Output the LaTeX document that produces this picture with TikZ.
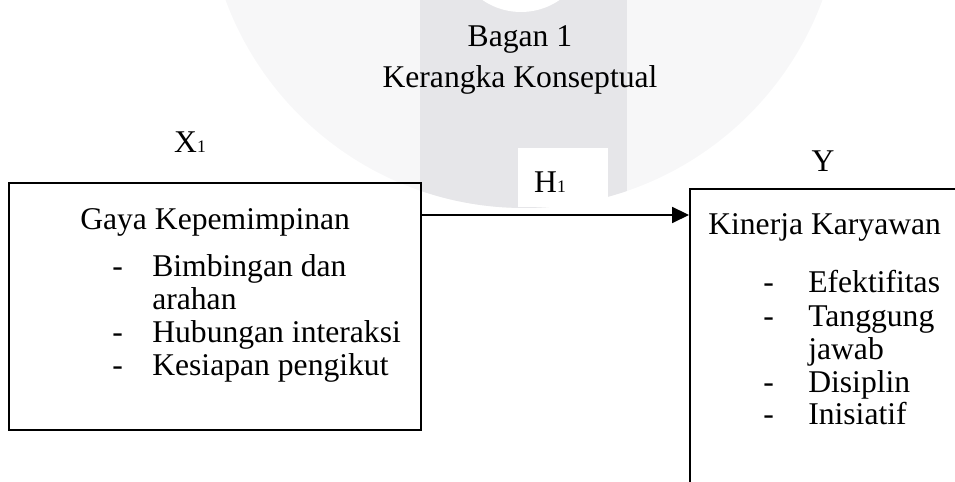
\documentclass[tikz,border=0pt]{standalone}
\usepackage{fontspec}
\setmainfont{Liberation Serif}
\usepackage{tikz}
\usetikzlibrary{arrows.meta, positioning, calc}
\definecolor{mydark}{RGB}{0,0,0}
\definecolor{wmlight}{RGB}{247,247,248}
\definecolor{wmband}{RGB}{230,230,233}
\newcommand{\idx}[1]{{\fontsize{12.5}{13}\selectfont #1}}
\tikzset{
  varbox/.style={rectangle, draw=mydark, line width=1.4pt, inner sep=0pt},
  txt/.style={anchor=base west, inner sep=0pt, font=\fontsize{22.5}{26}\selectfont},
  ctxt/.style={anchor=base, inner sep=0pt, font=\fontsize{22.5}{26}\selectfont},
  arrow/.style={-{Triangle[length=0.42cm, width=0.4cm]}, line width=0.9pt, color=mydark}
}
\begin{document}
\begin{tikzpicture}
  \useasboundingbox (0,0) rectangle (23.875,12.05);
  \clip (0,0) rectangle (23.875,12.05);
  % Watermark
  \fill[wmlight] (13.1,14.8) circle (7.95);
  \begin{scope}
    \clip (13.1,14.8) circle (7.95);
    \fill[wmband] (10.5,0) rectangle (15.675,12.05);
  \end{scope}
  \fill[white] (13.025,13.445) circle (1.695);
  \fill[white] (12.95,6.875) rectangle (15.2,8.35);
  % Title
  \node[ctxt] (bagan) at (13.0,10.875) {Bagan 1};
  \node[ctxt] (judul) at (13.0,9.85) {Kerangka Konseptual};
  % Variable labels
  \node[ctxt] (xlbl) at (4.75,8.225) {X\idx{1}};
  \node[ctxt] (hlbl) at (13.75,7.225) {H\idx{1}};
  \node[ctxt] (ylbl) at (20.575,7.75) {Y};
  % Boxes
  \node[varbox, minimum width=10.3cm, minimum height=6.175cm] (lbox) at (5.375,4.3875) {};
  \node[varbox, anchor=north west, minimum width=8cm, minimum height=10cm] (rbox) at (17.225,7.35) {};
  % Left box text
  \node[txt] (gaya) at (2.0,6.3) {Gaya Kepemimpinan};
  \node[txt] (d1) at (2.8,5.125) {-};
  \node[txt] (bimb) at (3.8,5.125) {Bimbingan dan};
  \node[txt] (arah) at (3.8,4.3) {arahan};
  \node[txt] (d2) at (2.8,3.475) {-};
  \node[txt] (hubu) at (3.8,3.475) {Hubungan interaksi};
  \node[txt] (d3) at (2.8,2.65) {-};
  \node[txt] (kesi) at (3.8,2.65) {Kesiapan pengikut};
  % Right box text
  \node[txt] (kine) at (17.7,6.175) {Kinerja Karyawan};
  \node[txt] (e1) at (19.075,4.725) {-};
  \node[txt] (efek) at (20.2,4.725) {Efektifitas};
  \node[txt] (e2) at (19.075,3.875) {-};
  \node[txt] (tang) at (20.2,3.875) {Tanggung};
  \node[txt] (jawa) at (20.2,3.05) {jawab};
  \node[txt] (e3) at (19.075,2.225) {-};
  \node[txt] (disi) at (20.2,2.225) {Disiplin};
  \node[txt] (e4) at (19.075,1.425) {-};
  \node[txt] (inis) at (20.2,1.425) {Inisiatif};
  % Arrow H1
  \coordinate (ah) at (0,6.675);
  \draw[arrow] (lbox.east |- ah) -- (rbox.west |- ah);
\end{tikzpicture}
\end{document}
